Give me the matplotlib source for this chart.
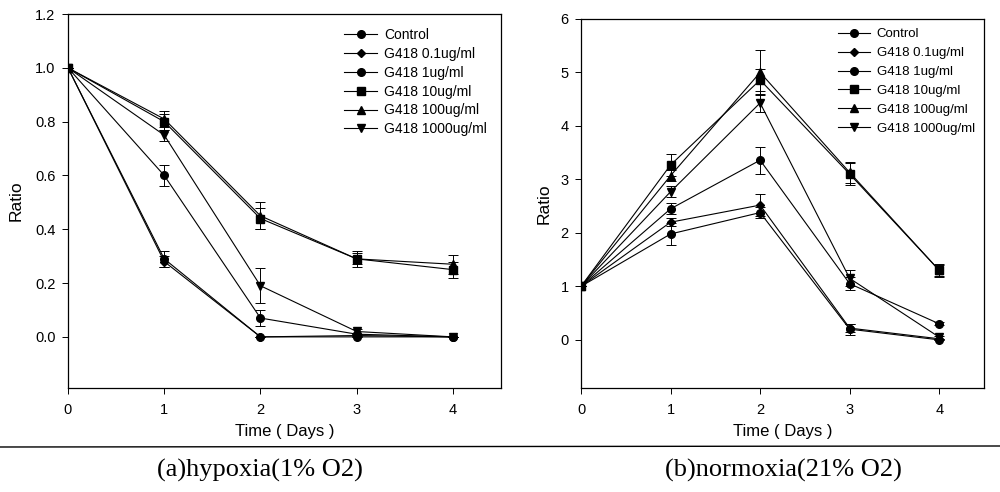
import numpy as np
import matplotlib
matplotlib.use("Agg")
import matplotlib.pyplot as plt

days = [0, 1, 2, 3, 4]
labels = ['Control', 'G418 0.1ug/ml', 'G418 1ug/ml', 'G418 10ug/ml',
          'G418 100ug/ml', 'G418 1000ug/ml']
markers = ['o', 'D', 'o', 's', '^', 'v']

# (a) hypoxia, 1% O2
hyp_control = [1.0, 0.29, 0.0, 0.0, 0.0]
hyp_01 = [1.0, 0.28, 0.0, 0.005, 0.0]
hyp_1 = [1.0, 0.60, 0.07, 0.01, 0.0]
hyp_10 = [1.0, 0.80, 0.44, 0.29, 0.25]
hyp_100 = [1.0, 0.81, 0.45, 0.29, 0.27]
hyp_1000 = [1.0, 0.75, 0.19, 0.02, 0.0]
hyp_err_control = [0, 0.03, 0, 0, 0]
hyp_err_01 = [0, 0.02, 0, 0, 0]
hyp_err_1 = [0, 0.04, 0.03, 0, 0]
hyp_err_10 = [0, 0.03, 0.04, 0.02, 0.03]
hyp_err_100 = [0, 0.03, 0.05, 0.03, 0.035]
hyp_err_1000 = [0, 0.02, 0.065, 0.01, 0]

# (b) normoxia, 21% O2
nor_control = [1.0, 1.98, 2.38, 0.2, 0.0]
nor_01 = [1.0, 2.2, 2.52, 0.22, 0.02]
nor_1 = [1.0, 2.45, 3.36, 1.05, 0.3]
nor_10 = [1.0, 3.27, 4.86, 3.1, 1.3]
nor_100 = [1.0, 3.07, 5.0, 3.13, 1.3]
nor_1000 = [1.0, 2.77, 4.43, 1.15, 0.05]
nor_err_control = [0, 0.2, 0.1, 0.1, 0]
nor_err_01 = [0, 0.08, 0.2, 0.08, 0]
nor_err_1 = [0, 0.1, 0.25, 0.12, 0.03]
nor_err_10 = [0, 0.2, 0.2, 0.2, 0.1]
nor_err_100 = [0, 0.1, 0.42, 0.2, 0.12]
nor_err_1000 = [0, 0.1, 0.17, 0.15, 0.03]

hyp = [hyp_control, hyp_01, hyp_1, hyp_10, hyp_100, hyp_1000]
hyp_err = [hyp_err_control, hyp_err_01, hyp_err_1, hyp_err_10, hyp_err_100, hyp_err_1000]
nor = [nor_control, nor_01, nor_1, nor_10, nor_100, nor_1000]
nor_err = [nor_err_control, nor_err_01, nor_err_1, nor_err_10, nor_err_100, nor_err_1000]

plt.rcParams['font.family'] = ['Liberation Sans', 'DejaVu Sans']

fig = plt.figure(figsize=(10, 4.92), dpi=100)
ax1 = fig.add_axes([0.068, 0.2114, 0.433, 0.760])
ax2 = fig.add_axes([0.581, 0.2114, 0.403, 0.750])


def draw(ax, series, errs, ylim, yticks, yfmt, legsize, ylpad, lspace, lpad):
    handles = []
    for vals, err, lab, m in zip(series, errs, labels, markers):
        ms = 5.5 if m in ('o', 's') else 6
        if m == 'D':
            ms = 4.5
        c = ax.errorbar(days, vals, yerr=err, color='black', marker=m, markersize=ms,
                        linewidth=0.8, elinewidth=0.7, capsize=3.5, capthick=0.7,
                        label=lab)
        handles.append(c[0])
    ax.set_xlim(0, 4.5)
    ax.set_ylim(*ylim)
    ax.set_xticks(days)
    ax.set_yticks(yticks)
    ax.set_yticklabels([yfmt.format(v) for v in yticks])
    ax.tick_params(direction='out', length=4, width=0.7, labelsize=10.5)
    ax.tick_params(axis='x', pad=7)
    ax.tick_params(axis='y', pad=5)
    for s in ax.spines.values():
        s.set_linewidth(0.9)
    ax.set_xlabel('Time ( Days )', fontsize=12, labelpad=5)
    ax.set_ylabel('Ratio', fontsize=12.5, labelpad=ylpad)
    ax.legend(handles, labels, loc='upper right', frameon=False, fontsize=legsize,
              handlelength=2.4, labelspacing=lspace, borderaxespad=lpad,
              handletextpad=0.5)


draw(ax1, hyp, hyp_err, (-0.19, 1.2), [0.0, 0.2, 0.4, 0.6, 0.8, 1.0, 1.2], '{:.1f}',
     10, 8, 0.35, 0.6)
draw(ax2, nor, nor_err, (-0.9, 6), [0, 1, 2, 3, 4, 5, 6], '{:d}', 9.5, 6.5, 0.5, 0.3)

# separator line and captions
fig.add_artist(plt.Line2D([0, 1], [1 - 447 / 492, 1 - 446 / 492],
                          transform=fig.transFigure, color='black', linewidth=1.0))
fig.text(0.26, 1 - 470 / 492, '(a)hypoxia(1% O2)', ha='center', va='center',
         family='Liberation Serif', fontsize=19)
fig.text(0.783, 1 - 470 / 492, '(b)normoxia(21% O2)', ha='center', va='center',
         family='Liberation Serif', fontsize=19)

fig.savefig('out.png', dpi=100)
